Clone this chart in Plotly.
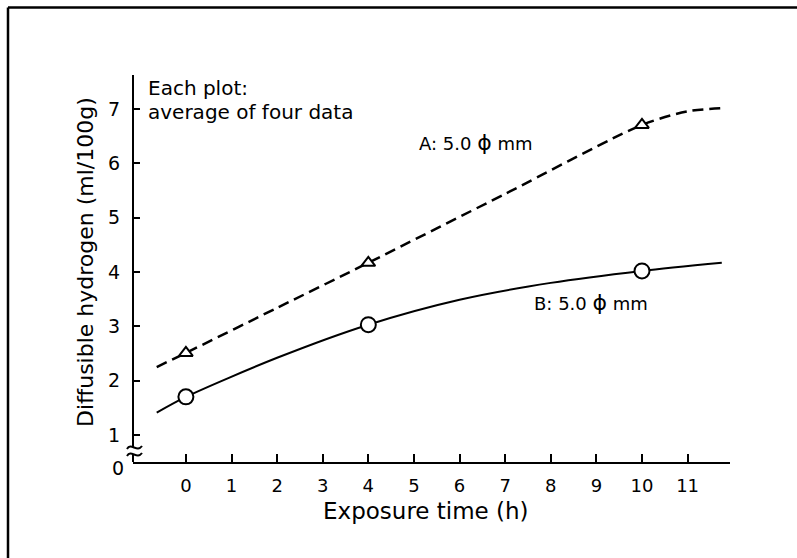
import plotly.graph_objects as go

# ---- data ----
curve_a_x = [-0.64, 0, 2, 4, 7, 10, 11, 11.82]
curve_a_y = [2.25, 2.51, 3.34, 4.17, 5.44, 6.71, 6.96, 7.02]
curve_b_x = [-0.64, 0, 2, 4, 6, 8, 10, 11.75]
curve_b_y = [1.41, 1.70, 2.42, 3.03, 3.49, 3.80, 4.02, 4.17]
points_x = [0, 4, 10]
points_a = [2.51, 4.17, 6.71]
points_b = [1.70, 3.03, 4.02]
x_ticks = list(range(0, 12))
y_ticks = [1, 2, 3, 4, 5, 6, 7]

FONT = "DejaVu Sans"
W, H = 797, 558
L, R, T, B = 133, 730, 75, 462
XR = [-1.16, 11.93]
YR = [0.5, 7.63]


def px(x):
    return (x - L) / (R - L)


def py(y):
    return (B - y) / (B - T)


fig = go.Figure()
fig.add_trace(go.Scatter(x=curve_a_x, y=curve_a_y, mode="lines",
                         line=dict(color="black", width=2.5, dash="11px,6px", shape="spline", smoothing=0.8),
                         showlegend=False, hoverinfo="skip"))
fig.add_trace(go.Scatter(x=curve_b_x, y=curve_b_y, mode="lines",
                         line=dict(color="black", width=2, shape="spline", smoothing=0.8),
                         showlegend=False, hoverinfo="skip"))
fig.add_trace(go.Scatter(x=points_x, y=points_a, mode="markers",
                         marker=dict(symbol="triangle-up", size=12, color="white",
                                     line=dict(color="black", width=2)),
                         showlegend=False))
fig.add_trace(go.Scatter(x=points_x, y=points_b, mode="markers",
                         marker=dict(symbol="circle", size=15, color="white",
                                     line=dict(color="black", width=2)),
                         showlegend=False))

fig.update_layout(
    width=W, height=H,
    margin=dict(l=L, r=W - R, t=T, b=H - B, pad=0),
    paper_bgcolor="white", plot_bgcolor="white",
    font=dict(family=FONT, color="black", size=18),
    xaxis=dict(range=XR, tickvals=x_ticks, ticktext=[str(v) for v in x_ticks],
               ticks="inside", ticklen=8, tickwidth=2, tickcolor="black",
               showline=True, linecolor="black", linewidth=2,
               showgrid=False, zeroline=False, ticklabelstandoff=6,
               tickfont=dict(size=18, family=FONT)),
    yaxis=dict(range=YR, tickvals=y_ticks, ticktext=[str(v) for v in y_ticks],
               ticks="inside", ticklen=7, tickwidth=2, tickcolor="black",
               showline=False,
               showgrid=False, zeroline=False, ticklabelstandoff=12,
               tickfont=dict(size=19, family=FONT)),
)

ann = []
def add_text(text, x, y, size, xanchor="left", angle=0):
    ann.append(dict(text=text, x=px(x), y=py(y), xref="paper", yref="paper",
                    xanchor=xanchor, yanchor="middle", showarrow=False, textangle=angle,
                    font=dict(family=FONT, size=size, color="black")))

PHI = '<span style="font-size:22px">ϕ</span>'
add_text("Each plot:", 146, 88, 20)
add_text("average of four data", 146, 112, 20)
add_text("A: 5.0 " + PHI + " mm", 417, 142, 18)
add_text("B: 5.0 " + PHI + " mm", 532, 302, 18)
add_text("0", 118, 468, 19, xanchor="center")
add_text("Exposure time (h)", 426, 511, 23, xanchor="center")
add_text("Diffusible hydrogen (ml/100g)", 85, 262, 22, xanchor="center", angle=-90)
fig.update_layout(annotations=ann)

shapes = []
# outer frame (top and left edges)
shapes.append(dict(type="line", xref="paper", yref="paper", x0=px(8), x1=px(W), y0=py(7.5), y1=py(7.5),
                   line=dict(color="black", width=2.5)))
shapes.append(dict(type="line", xref="paper", yref="paper", x0=px(8), x1=px(8), y0=py(7.5), y1=py(H),
                   line=dict(color="black", width=2.5)))
# broken y axis line
shapes.append(dict(type="line", xref="paper", yref="paper", x0=0, x1=0, y0=py(447), y1=1,
                   line=dict(color="black", width=2)))
shapes.append(dict(type="line", xref="paper", yref="paper", x0=0, x1=0, y0=0, y1=py(454),
                   line=dict(color="black", width=2)))
def wave(y0):
    return ("M {:.5f},{:.5f} C {:.5f},{:.5f} {:.5f},{:.5f} {:.5f},{:.5f}".format(
        px(127), py(y0 + 2), px(131), py(y0 - 5), px(137), py(y0 + 6), px(142), py(y0 - 1)))
for yy in (447, 454):
    shapes.append(dict(type="path", xref="paper", yref="paper", path=wave(yy),
                       line=dict(color="black", width=2), layer="above"))
fig.update_layout(shapes=shapes)

fig.write_html("out.html")
